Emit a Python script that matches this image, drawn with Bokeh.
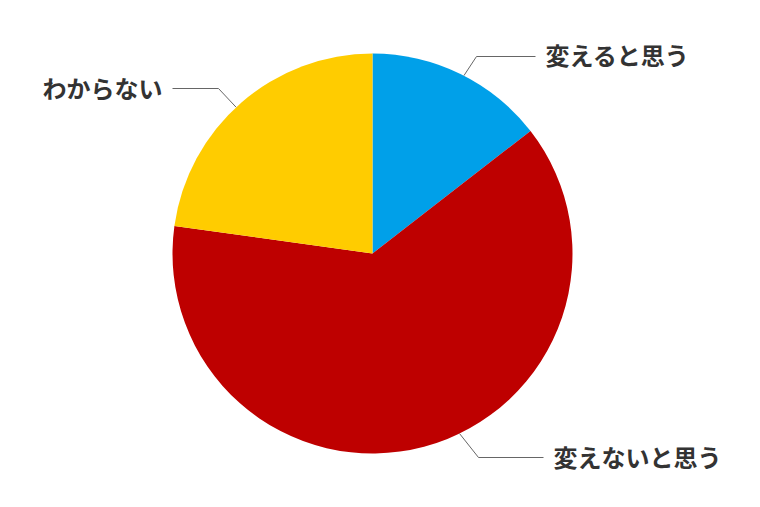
import numpy as np
from bokeh.plotting import figure
from bokeh.models import Range1d, ColumnDataSource
from bokeh.core.properties import value
from bokeh.embed import file_html
from bokeh.resources import INLINE

# ---- data ----
categories = ["変えると思う", "変えないと思う", "わからない"]
shares = [14.5, 62.7, 22.8]
colors = ["#00A0E9", "#BE0000", "#FFCC00"]

# ---- layout (page pixel coords) ----
W, H = 744, 491
def px(x):
    return x
def py(y):
    return H - y

cx, cy, R = 372, 253, 200
# connector anchor angle (deg clockwise from top), elbow and end points, label side
label_angles = [27.2, 154.2, 317.0]
elbows = [(476, 56), (478, 457), (218, 88)]
line_ends = [(535, 56), (543, 457), (172, 88)]
label_pos = [(545, 54), (553, 456), (162, 87)]
label_align = ["left", "left", "right"]

p = figure(width=W, height=H, output_backend="svg", toolbar_location=None,
           x_range=Range1d(0, W), y_range=Range1d(0, H), min_border=0,
           outline_line_color=None)
p.axis.visible = False
p.grid.visible = False
p.background_fill_color = "white"
p.border_fill_color = "white"

vals = np.array(shares, dtype=float)
frac = vals / vals.sum()
cum = np.concatenate([[0.0], np.cumsum(frac)])
start = np.pi / 2 - cum[:-1] * 2 * np.pi
end = np.pi / 2 - cum[1:] * 2 * np.pi

src = ColumnDataSource(dict(x=[px(cx)] * 3, y=[py(cy)] * 3, start=start, end=end,
                            color=colors, cat=categories))
p.wedge(x="x", y="y", radius=R, start_angle="start", end_angle="end",
        direction="clock", fill_color="color", line_color=None, source=src)

for i, cat in enumerate(categories):
    a = np.radians(label_angles[i])
    ax_, ay_ = cx + R * np.sin(a), cy - R * np.cos(a)
    xs = [px(ax_), px(elbows[i][0]), px(line_ends[i][0])]
    ys = [py(ay_), py(elbows[i][1]), py(line_ends[i][1])]
    p.line(xs, ys, line_color="#666666", line_width=1)
    p.text(x=[px(label_pos[i][0])], y=[py(label_pos[i][1])], text=[cat],
           text_font=value("Noto Sans CJK JP"), text_font_style="bold",
           text_font_size="24px", text_color="#333333",
           text_align=label_align[i], text_baseline="middle")

open("out.html", "w").write(file_html(p, INLINE))
